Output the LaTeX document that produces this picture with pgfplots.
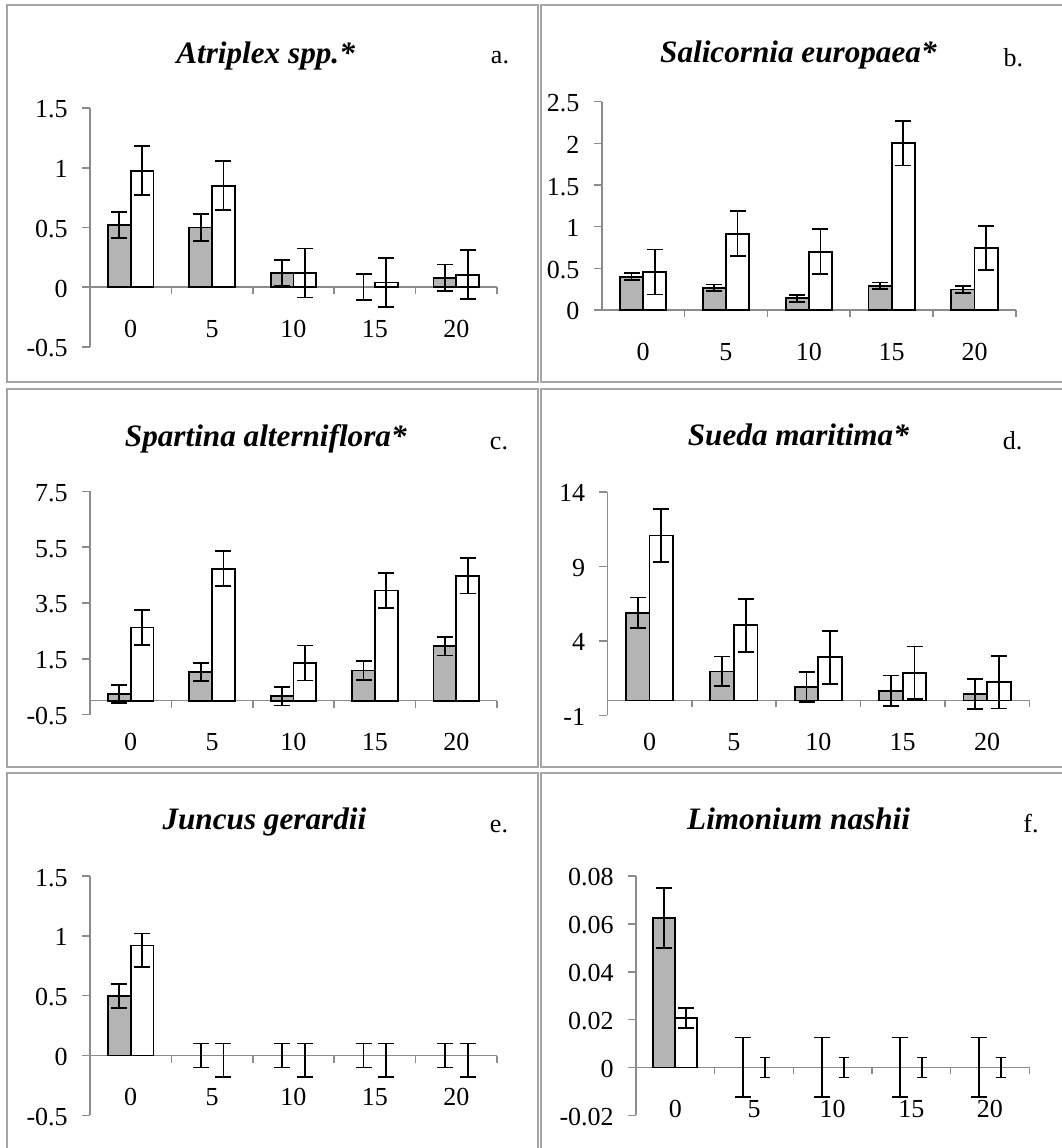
\documentclass[border=0pt]{standalone}
\usepackage{pgfplots}
\pgfplotsset{compat=1.18}
\usepackage{fontspec}
\setmainfont{Liberation Serif}
\definecolor{bargray}{RGB}{180,180,180}
\definecolor{axisgray}{RGB}{140,140,140}
\definecolor{framegray}{RGB}{165,165,165}
\pgfplotsset{
  panel/.style={
    scale only axis, clip=false,
    xmin=-0.5, xmax=4.5,
    axis y line=left, axis x line=middle,
    axis line style={draw=axisgray, line width=0.8pt, -},
    xtick={0,1,2,3,4}, xticklabels={0,5,10,15,20},
    minor xtick={0.5,1.5,2.5,3.5,4.5},
    tick align=outside,
    major tick length=4pt, minor tick length=3.5pt,
    tick style={draw=axisgray, line width=0.8pt},
    major x tick style={draw=none},
    hide obscured x ticks=false, hide obscured y ticks=false,
    scaled y ticks=false,
    typeset ticklabels with strut,
    tick label style={font=\fontsize{13}{15}\selectfont, text=black},
    x tick label style={yshift=-7.1pt},
    y tick label style={xshift=-3.6pt, yshift=-2pt},
    anchor=south west,
  },
  gbar/.style={ybar, bar width=0.28, bar shift=0pt, fill=bargray, draw=black, line width=0.9pt},
  wbar/.style={ybar, bar width=0.28, bar shift=0pt, fill=white, draw=black, line width=0.9pt},
  errs/.style={
    /pgfplots/error bars/y dir=both,
    /pgfplots/error bars/y explicit,
    /pgfplots/error bars/error bar style={draw=black, line width=0.9pt, solid},
    /pgfplots/error bars/error mark options={rotate=90, draw=black, mark size=#1, line width=0.9pt}},
  errs/.default=4pt,
  eonly/.style={draw=none, mark=none, errs=#1},
  eonly/.default=4pt,
}
\newcommand{\ttl}[3]{\node[anchor=base, font=\fontsize{15.6}{18}\selectfont\bfseries\itshape] at (#1,#2) {#3};}
\newcommand{\lbl}[3]{\node[anchor=base, font=\fontsize{13}{15}\selectfont] at (#1,#2) {#3};}
\begin{document}
\begin{tikzpicture}[x=1pt,y=1pt]
\useasboundingbox (0,0) rectangle (531,574);
% frames
\begin{scope}[draw=framegray, line width=1.1pt]
\draw (3.5,571.5) rectangle (269,383);
\draw (270.5,571.5) rectangle (540,383);
\draw (3.5,379.5) rectangle (269,190.5);
\draw (270.5,379.5) rectangle (540,190.5);
\draw (3.5,187.5) rectangle (269,-10);
\draw (270.5,187.5) rectangle (540,-10);
\end{scope}
% titles
\ttl{132.8}{542.3}{Atriplex spp.*}
\lbl{250}{542.3}{a.}
\ttl{399.2}{542.7}{Salicornia europaea*}
\lbl{506.7}{540.7}{b.}
\ttl{132.9}{350.5}{Spartina alterniflora*}
\lbl{249.5}{349.2}{c.}
\ttl{399.2}{351.2}{Sueda maritima*}
\lbl{506.3}{349.2}{d.}
\ttl{132.2}{159.3}{Juncus gerardii}
\lbl{249.5}{157.7}{e.}
\ttl{399.3}{159.3}{Limonium nashii}
\lbl{515.5}{157.7}{f.}

% a
\begin{axis}[panel, at={(45pt,400.5pt)}, width=203.5pt, height=119.5pt,
  ymin=-0.5, ymax=1.5, ytick={-0.5,0,0.5,1,1.5}, yticklabels={-0.5,0,0.5,1,1.5}]
\addplot[gbar, errs] coordinates {(-0.14,0.52) +- (0,0.11) (0.86,0.50) +- (0,0.11) (1.86,0.12) +- (0,0.11) (3.86,0.08) +- (0,0.11)};
\addplot[eonly] coordinates {(2.86,0) +- (0,0.11)};
\addplot[wbar, errs] coordinates {(0.14,0.975) +- (0,0.205) (1.14,0.85) +- (0,0.205) (2.14,0.12) +- (0,0.205) (3.14,0.04) +- (0,0.205) (4.14,0.105) +- (0,0.205)};
\end{axis}

% b
\begin{axis}[panel, at={(300.85pt,419pt)}, width=207.15pt, height=104.15pt,
  ymin=0, ymax=2.5, ytick={0,0.5,1,1.5,2,2.5}, yticklabels={0,0.5,1,1.5,2,2.5}]
\addplot[gbar, errs] coordinates {(-0.14,0.40) +- (0,0.04) (0.86,0.265) +- (0,0.04) (1.86,0.14) +- (0,0.04) (2.86,0.29) +- (0,0.04) (3.86,0.245) +- (0,0.04)};
\addplot[wbar, errs] coordinates {(0.14,0.455) +- (0,0.27) (1.14,0.915) +- (0,0.27) (2.14,0.70) +- (0,0.27) (3.14,2.0) +- (0,0.265) (4.14,0.745) +- (0,0.265)};
\end{axis}

% c
\begin{axis}[panel, at={(45pt,216.67pt)}, width=203.5pt, height=111.67pt,
  ymin=-0.5, ymax=7.5, ytick={-0.5,1.5,3.5,5.5,7.5}, yticklabels={-0.5,1.5,3.5,5.5,7.5}]
\addplot[gbar, errs] coordinates {(-0.14,0.24) +- (0,0.32) (0.86,1.03) +- (0,0.33) (1.86,0.16) +- (0,0.33) (2.86,1.08) +- (0,0.33) (3.86,1.95) +- (0,0.33)};
\addplot[wbar, errs] coordinates {(0.14,2.62) +- (0,0.63) (1.14,4.73) +- (0,0.63) (2.14,1.35) +- (0,0.63) (3.14,3.95) +- (0,0.63) (4.14,4.48) +- (0,0.64)};
\end{axis}

% d
\begin{axis}[panel, at={(303.67pt,216.33pt)}, width=211pt, height=111.67pt,
  ymin=-1, ymax=14, ytick={-1,4,9,14}, yticklabels={-1,4,9,14}]
\addplot[gbar, errs] coordinates {(-0.14,5.9) +- (0,1.02) (0.86,1.95) +- (0,1.0) (1.86,0.9) +- (0,1.02) (2.86,0.66) +- (0,1.02) (3.86,0.43) +- (0,1.0)};
\addplot[wbar, errs] coordinates {(0.14,11.08) +- (0,1.77) (1.14,5.05) +- (0,1.77) (2.14,2.9) +- (0,1.78) (3.14,1.85) +- (0,1.77) (4.14,1.23) +- (0,1.77)};
\end{axis}

% e
\begin{axis}[panel, at={(45pt,16.33pt)}, width=203.5pt, height=119.67pt,
  ymin=-0.5, ymax=1.5, ytick={-0.5,0,0.5,1,1.5}, yticklabels={-0.5,0,0.5,1,1.5}]
\addplot[gbar, errs] coordinates {(-0.14,0.5) +- (0,0.1)};
\addplot[eonly] coordinates {(0.86,0) +- (0,0.1) (1.86,0) +- (0,0.1) (2.86,0) +- (0,0.1) (3.86,0) +- (0,0.1)};
\addplot[wbar, errs] coordinates {(0.14,0.92) += (0,0.1) -= (0,0.18)};
\addplot[eonly] coordinates {(1.14,0) += (0,0.1) -= (0,0.18) (2.14,0) += (0,0.1) -= (0,0.18) (3.14,0) += (0,0.1) -= (0,0.18) (4.14,0) += (0,0.1) -= (0,0.18)};
\end{axis}

% f
\begin{axis}[panel, at={(318pt,16.33pt)}, width=196.67pt, height=119.67pt,
  ymin=-0.02, ymax=0.08, ytick={-0.02,0,0.02,0.04,0.06,0.08}, yticklabels={-0.02,0,0.02,0.04,0.06,0.08}]
\addplot[gbar, errs] coordinates {(-0.14,0.0625) +- (0,0.0125)};
\addplot[eonly] coordinates {(0.86,0) +- (0,0.0125) (1.86,0) +- (0,0.0125) (2.86,0) +- (0,0.0125) (3.86,0) +- (0,0.0125)};
\addplot[wbar, errs] coordinates {(0.14,0.0207) +- (0,0.0042)};
\addplot[eonly=2.5pt] coordinates {(1.14,0) +- (0,0.0042) (2.14,0) +- (0,0.0042) (3.14,0) +- (0,0.0042) (4.14,0) +- (0,0.0042)};
\end{axis}
\end{tikzpicture}
\end{document}
